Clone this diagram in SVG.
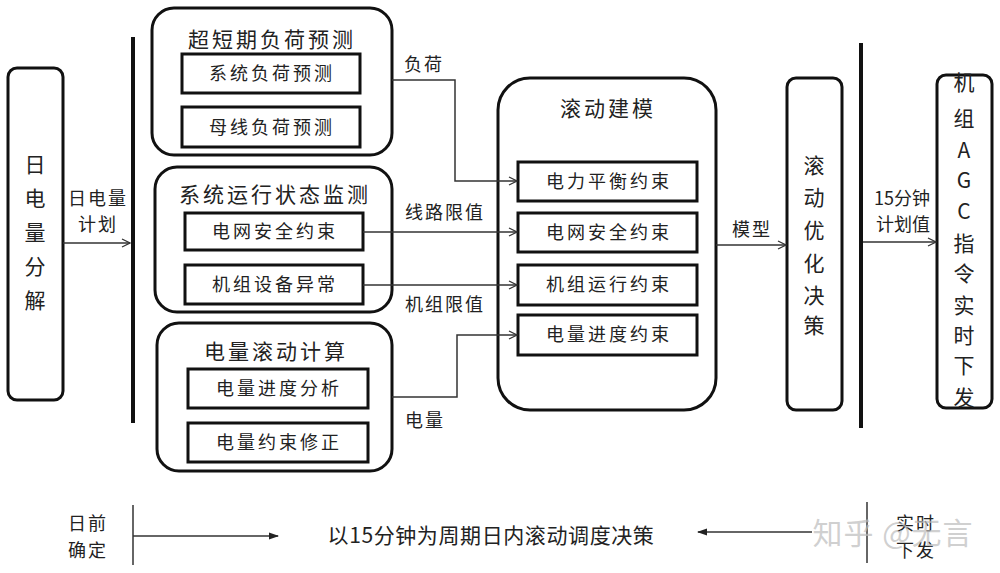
<svg xmlns="http://www.w3.org/2000/svg" width="1000" height="573" viewBox="0 0 1000 573">
<style>
text{font-family:"Noto Sans CJK SC","Noto Sans",sans-serif;fill:#222;text-anchor:middle}
.outer{fill:#fff;stroke:#111;stroke-width:3}
.inner{fill:#fff;stroke:#111;stroke-width:3}
.title{font-size:21px;letter-spacing:3px}
.itxt{font-size:18px;letter-spacing:3px}
.lbl{font-size:18px;letter-spacing:2px}
.vt{font-size:21px}
.conn{fill:none;stroke:#333;stroke-width:1.5}
.bar{stroke:#111;stroke-width:4}
.tick{stroke:#333;stroke-width:1.5}
</style>
<defs>
<marker id="open" viewBox="0 0 10 10" refX="9" refY="5" markerWidth="10" markerHeight="10" markerUnits="userSpaceOnUse" orient="auto">
<path d="M1,1 L9,5 L1,9" fill="none" stroke="#333" stroke-width="1.3"/>
</marker>
<marker id="solid" viewBox="0 0 10 10" refX="9" refY="5" markerWidth="10" markerHeight="10" markerUnits="userSpaceOnUse" orient="auto">
<path d="M0,1.5 L10,5 L0,8.5 Z" fill="#222"/>
</marker>
</defs>

<g id="daily-split">
<rect class="outer" x="8" y="68" width="55" height="332" rx="9"/>
<text class="vt" x="35" y="172">日</text>
<text class="vt" x="35" y="206">电</text>
<text class="vt" x="35" y="240">量</text>
<text class="vt" x="35" y="274">分</text>
<text class="vt" x="35" y="308">解</text>
</g>

<g id="bars">
<line class="bar" x1="133" y1="37" x2="133" y2="423"/>
<line class="bar" x1="861" y1="43" x2="861" y2="428"/>
</g>

<g id="ultra-short-forecast">
<rect class="outer" x="152" y="8" width="240" height="147" rx="22"/>
<text class="title" x="272" y="47">超短期负荷预测</text>
<rect class="inner" x="182" y="54" width="178" height="39"/>
<text class="itxt" x="272" y="80">系统负荷预测</text>
<rect class="inner" x="182" y="107" width="178" height="40"/>
<text class="itxt" x="272" y="134">母线负荷预测</text>
</g>

<g id="state-monitor">
<rect class="outer" x="155" y="167" width="237" height="145" rx="22"/>
<text class="title" x="275" y="202">系统运行状态监测</text>
<rect class="inner" x="185" y="213" width="178" height="37"/>
<text class="itxt" x="275" y="238">电网安全约束</text>
<rect class="inner" x="185" y="265" width="178" height="39"/>
<text class="itxt" x="275" y="291">机组设备异常</text>
</g>

<g id="energy-rolling">
<rect class="outer" x="157" y="323" width="235" height="148" rx="22"/>
<text class="title" x="276" y="359">电量滚动计算</text>
<rect class="inner" x="188" y="369" width="180" height="39"/>
<text class="itxt" x="279" y="395">电量进度分析</text>
<rect class="inner" x="188" y="423" width="180" height="39"/>
<text class="itxt" x="279" y="449">电量约束修正</text>
</g>

<g id="rolling-model">
<rect class="outer" x="498" y="78" width="218" height="332" rx="32"/>
<text class="title" x="608" y="116">滚动建模</text>
<rect class="inner" x="518" y="162" width="179" height="39"/>
<text class="itxt" x="609" y="188">电力平衡约束</text>
<rect class="inner" x="518" y="213" width="179" height="39"/>
<text class="itxt" x="609" y="239">电网安全约束</text>
<rect class="inner" x="518" y="265" width="179" height="40"/>
<text class="itxt" x="609" y="291">机组运行约束</text>
<rect class="inner" x="518" y="315" width="179" height="40"/>
<text class="itxt" x="609" y="341">电量进度约束</text>
</g>

<g id="rolling-opt">
<rect class="outer" x="787" y="78" width="55" height="332" rx="9"/>
<text class="vt" x="814" y="173">滚</text>
<text class="vt" x="814" y="205">动</text>
<text class="vt" x="814" y="238">优</text>
<text class="vt" x="814" y="271">化</text>
<text class="vt" x="814" y="303">决</text>
<text class="vt" x="814" y="333">策</text>
</g>

<g id="agc">
<rect class="outer" x="937" y="75" width="55" height="333" rx="9"/>
<text class="vt" x="964" y="90">机</text>
<text class="vt" x="964" y="126">组</text>
<text class="vt" x="964" y="158">A</text>
<text class="vt" x="964" y="188">G</text>
<text class="vt" x="964" y="219">C</text>
<text class="vt" x="964" y="251">指</text>
<text class="vt" x="964" y="281">令</text>
<text class="vt" x="964" y="313">实</text>
<text class="vt" x="964" y="343">时</text>
<text class="vt" x="964" y="373">下</text>
<text class="vt" x="964" y="405">发</text>
</g>

<g id="connectors">
<line class="conn" x1="63" y1="243" x2="130" y2="243" marker-end="url(#open)"/>
<polyline class="conn" points="392,80 455,80 455,181 517,181" marker-end="url(#open)"/>
<line class="conn" x1="363" y1="232" x2="517" y2="232" marker-end="url(#open)"/>
<line class="conn" x1="363" y1="285" x2="517" y2="285" marker-end="url(#open)"/>
<polyline class="conn" points="392,397 457,397 457,335 517,335" marker-end="url(#open)"/>
<line class="conn" x1="716" y1="245" x2="786" y2="245" marker-end="url(#open)"/>
<line class="conn" x1="863" y1="242" x2="936" y2="242" marker-end="url(#open)"/>
</g>

<g id="connector-labels">
<text class="lbl" x="98" y="205">日电量</text>
<text class="lbl" x="98" y="231">计划</text>
<text class="lbl" x="424" y="71">负荷</text>
<text class="lbl" x="445" y="219">线路限值</text>
<text class="lbl" x="445" y="311">机组限值</text>
<text class="lbl" x="425" y="427">电量</text>
<text class="lbl" x="752" y="236">模型</text>
<text class="lbl" x="902" y="205" style="letter-spacing:0">15分钟</text>
<text class="lbl" x="903" y="231" style="letter-spacing:0">计划值</text>
</g>

<g id="timeline">
<line class="tick" x1="133" y1="505" x2="133" y2="565"/>
<line class="tick" x1="133" y1="536" x2="278" y2="536" marker-end="url(#solid)"/>
<line class="tick" x1="867" y1="502" x2="867" y2="563"/>
<line class="tick" x1="812" y1="532" x2="698" y2="532" marker-end="url(#solid)"/>
<text class="lbl" x="88" y="530">日前</text>
<text class="lbl" x="88" y="557">确定</text>
<text x="491" y="543" style="font-size:21px;letter-spacing:0.6px">以15分钟为周期日内滚动调度决策</text>
<text class="lbl" x="916" y="530">实时</text>
<text class="lbl" x="916" y="557">下发</text>
</g>

<g id="watermark">
<text x="893" y="544" style="font-size:30px;fill:#bbb;fill-opacity:0.7;letter-spacing:1px">知乎 @无言</text>
</g>
</svg>
